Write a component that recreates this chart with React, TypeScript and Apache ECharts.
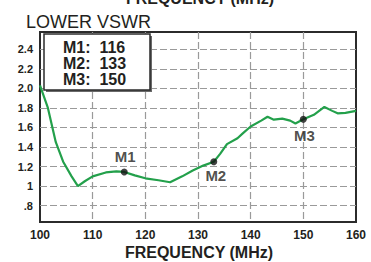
import React, { useEffect, useRef } from "react";
import * as echarts from "echarts";

const freq = [100, 101.5, 103, 104.4, 106, 107.2, 108.5, 110, 112.5, 114.5, 116, 118, 120, 122.5, 124.7, 127, 129, 131, 133, 134.2, 135.5, 137.5, 138.5, 140, 142, 143.2, 144.4, 146, 147.5, 148.5, 150, 152, 154, 155.5, 156.5, 158, 160];
const vswr = [2.03, 1.8, 1.45, 1.25, 1.1, 1.0, 1.05, 1.1, 1.14, 1.15, 1.145, 1.11, 1.08, 1.06, 1.04, 1.1, 1.16, 1.21, 1.25, 1.33, 1.43, 1.49, 1.54, 1.61, 1.67, 1.71, 1.68, 1.69, 1.67, 1.64, 1.684, 1.73, 1.81, 1.77, 1.745, 1.75, 1.77];

const markerNames = ["M1", "M2", "M3"];
const markerFreq = [116, 133, 150];
const markerVswr = [1.145, 1.25, 1.684];

const yTickValues = [0.8, 1.0, 1.2, 1.4, 1.6, 1.8, 2.0, 2.2, 2.4];
const yTickLabels = [".8", "1", "1.2", "1.4", "1.6", "1.8", "2.0", "2.2", "2.4"];
const xTicks = [100, 110, 120, 130, 140, 150, 160];

const FONT = "Liberation Sans, Arial, sans-serif";
const INK = "#231f20";

export default function App() {
  const ref = useRef<HTMLDivElement>(null);
  useEffect(() => {
    if (!ref.current) return;
    const chart = echarts.init(ref.current, undefined, { renderer: "svg" });
    const grid = "#9a9a9a";
    const boxText = markerNames.map((n, i) => `${n}:  ${markerFreq[i]}`).join("\n");
    chart.setOption({
      animation: false,
      backgroundColor: "#ffffff",
      grid: {
        left: 40,
        right: 15,
        top: 32,
        bottom: 40,
        show: true,
        borderColor: "#2b2b2b",
        borderWidth: 2,
        backgroundColor: "transparent",
      },
      xAxis: {
        type: "value",
        min: xTicks[0],
        max: xTicks[xTicks.length - 1],
        interval: 10,
        axisLine: { show: false },
        axisTick: { show: false },
        axisLabel: {
          color: INK,
          fontFamily: FONT,
          fontWeight: "bold",
          fontSize: 12,
          margin: 7,
        },
        splitLine: {
          show: true,
          showMinLine: false,
          showMaxLine: false,
          lineStyle: { color: grid, type: [7, 3], width: 1.2 },
        },
      },
      yAxis: {
        type: "value",
        min: 0.633,
        max: 2.577,
        axisLine: { show: false },
        axisTick: { show: false, customValues: yTickValues },
        axisLabel: {
          customValues: yTickValues,
          color: INK,
          fontFamily: FONT,
          fontWeight: "bold",
          fontSize: 11,
          margin: 7,
          formatter: (v: number) => {
            const i = yTickValues.findIndex((t) => Math.abs(t - v) < 1e-6);
            return i >= 0 ? yTickLabels[i] : "";
          },
        },
        splitLine: {
          show: true,
          lineStyle: { color: grid, type: [7, 3], width: 1.2 },
        },
      },
      series: [
        {
          type: "line",
          data: freq.map((f, i) => [f, vswr[i]]),
          symbol: "none",
          lineStyle: { color: "#23a04b", width: 2.2 },
          z: 3,
        },
        {
          type: "scatter",
          data: markerNames.map((n, i) => ({
            name: n,
            value: [markerFreq[i], markerVswr[i]],
            label: {
              position: i === 0 ? "top" : "bottom",
              distance: i === 0 ? 4 : i === 1 ? 3 : 5,
              offset: i === 1 ? [2, 0] : [1, 0],
            },
          })),
          symbol: "circle",
          symbolSize: 7,
          itemStyle: { color: "#111" },
          label: {
            show: true,
            formatter: "{b}",
            color: INK,
            fontFamily: FONT,
            fontWeight: "bold",
            fontSize: 15,
          },
          z: 4,
        },
      ],
      graphic: [
        {
          type: "text",
          left: 26,
          top: 13,
          style: {
            text: "LOWER VSWR",
            fill: INK,
            font: `18px ${FONT}`,
          },
        },
        {
          type: "text",
          x: 200,
          y: -2,
          style: {
            text: "FREQUENCY (MHz)",
            fill: INK,
            font: `bold 16px ${FONT}`,
            align: "center",
            verticalAlign: "middle",
          },
        },
        {
          type: "text",
          x: 199,
          y: 252,
          style: {
            text: "FREQUENCY (MHz)",
            fill: INK,
            font: `bold 16px ${FONT}`,
            align: "center",
            verticalAlign: "middle",
          },
        },
        {
          type: "rect",
          shape: { x: 46, y: 36, width: 106, height: 56 },
          style: { fill: "#6a6a6a" },
          z: 10,
        },
        {
          type: "rect",
          shape: { x: 44, y: 34, width: 106, height: 56 },
          style: { fill: "#ffffff", stroke: "#2b2b2b", lineWidth: 1.5 },
          z: 11,
        },
        {
          type: "text",
          x: 63,
          y: 63.5,
          style: {
            text: boxText,
            fill: INK,
            font: `bold 16px ${FONT}`,
            lineHeight: 16,
            verticalAlign: "middle",
          },
          z: 12,
        },
      ],
    });
    return () => chart.dispose();
  }, []);
  return (
    <div
      ref={ref}
      style={{ position: "absolute", left: 0, top: 0, width: 371, height: 262 }}
    />
  );
}
